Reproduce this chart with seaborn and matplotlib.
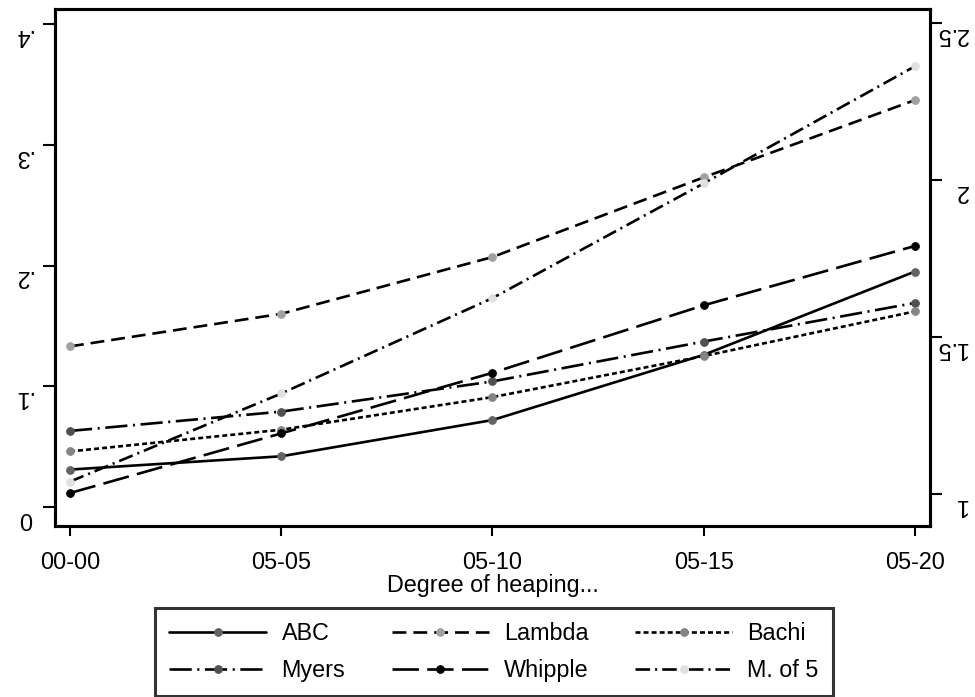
import matplotlib
matplotlib.use("Agg")
import matplotlib.pyplot as plt
import seaborn as sns
import numpy as np

categories = ["00-00", "05-05", "05-10", "05-15", "05-20"]
abc = [0.031, 0.042, 0.072, 0.126, 0.195]
lambda_ = [0.133, 0.160, 0.207, 0.273, 0.337]
bachi = [0.046, 0.064, 0.091, 0.125, 0.162]
myers = [0.063, 0.079, 0.104, 0.137, 0.169]
whipple = [1.003, 1.193, 1.386, 1.601, 1.790]
mof5 = [0.021, 0.094, 0.173, 0.268, 0.365]

left_ticks = [0, 0.1, 0.2, 0.3, 0.4]
left_labels = ["0", ".1", ".2", ".3", ".4"]
right_ticks = [1, 1.5, 2, 2.5]
right_labels = ["1", "1.5", "2", "2.5"]

sns.set_style("white")
plt.rcParams["font.family"] = ["Liberation Sans", "DejaVu Sans"]
plt.rcParams["lines.scale_dashes"] = False
for k in ("text.color", "axes.labelcolor", "xtick.color", "ytick.color"):
    plt.rcParams[k] = "black"

FS = 16.8

fig = plt.figure(figsize=(9.75, 6.97), dpi=100)
ax = fig.add_axes([55 / 975, (697 - 526) / 697, (930 - 55) / 975, (526 - 9) / 697])
ax2 = ax.twinx()

x = np.arange(len(categories))
lw = 1.9
ms = 5.5

series = [
    ("ABC", abc, ax, "-", "#626262"),
    ("Myers", myers, ax, (0, (16, 4, 1.5, 4)), "#505050"),
    ("Lambda", lambda_, ax, (0, (10, 5)), "#a0a0a0"),
    ("Whipple", whipple, ax2, (0, (19, 6)), "#000000"),
    ("Bachi", bachi, ax, (0, (3.6, 2.2)), "#858585"),
    ("M. of 5", mof5, ax, (0, (10.5, 3.6, 1.5, 3.6)), "#e0e0e0"),
]

handles = []
for name, vals, a, ls, mc in series:
    sns.lineplot(x=x, y=vals, ax=a, color="black", linewidth=lw, linestyle=ls,
                 marker="o", markersize=ms, markerfacecolor=mc, markeredgecolor=mc,
                 label=name, legend=False)
    handles.append(a.get_lines()[-1])

ax.set_xlim(-15 / 211.25, 4 + 15 / 211.25)
ax.set_ylim(-19 / 1207.5, (507 - 9) / 1207.5)
ax2.set_ylim(1 - 32 / 314, 1 + (494 - 9) / 314)

ax.set_xticks(x)
ax.set_xticklabels(categories)
ax.set_yticks(left_ticks)
ax.set_yticklabels(left_labels)
ax2.set_yticks(right_ticks)
ax2.set_yticklabels(right_labels)

ax.tick_params(axis="x", direction="out", length=7, width=1.5, pad=11, labelsize=FS, bottom=True, colors="black")
ax.tick_params(axis="y", direction="out", length=8.6, width=1.5, pad=8, labelsize=FS, left=True, labelrotation=180, colors="black")
ax2.tick_params(axis="y", direction="out", length=8.6, width=1.5, pad=18.5, labelsize=FS, right=True, labelrotation=180, colors="black")
for t in ax.get_yticklabels():
    t.set_va("top")
for t in ax2.get_yticklabels():
    t.set_va("top")
    t.set_ha("right")

ax.set_xlabel("Degree of heaping...", fontsize=FS, labelpad=0, color="black")
ax.set_ylabel("")
ax2.set_ylabel("")

for a in (ax, ax2):
    for s in a.spines.values():
        s.set_color("black")
        s.set_linewidth(2.2)

leg = fig.legend(handles=handles, labels=[h.get_label() for h in handles], ncol=3,
                 loc="center", bbox_to_anchor=((153 + 835) / 2 / 975, (697 - 652) / 697),
                 fontsize=FS, numpoints=1, handlelength=4.15, handletextpad=0.65,
                 columnspacing=2.0, labelspacing=0.6, frameon=True, fancybox=False,
                 borderpad=0.6, borderaxespad=0)
leg.get_frame().set_edgecolor("black")
leg.get_frame().set_linewidth(2.2)
for t in leg.get_texts():
    t.set_color("black")

fig.savefig("out.png", dpi=100)
